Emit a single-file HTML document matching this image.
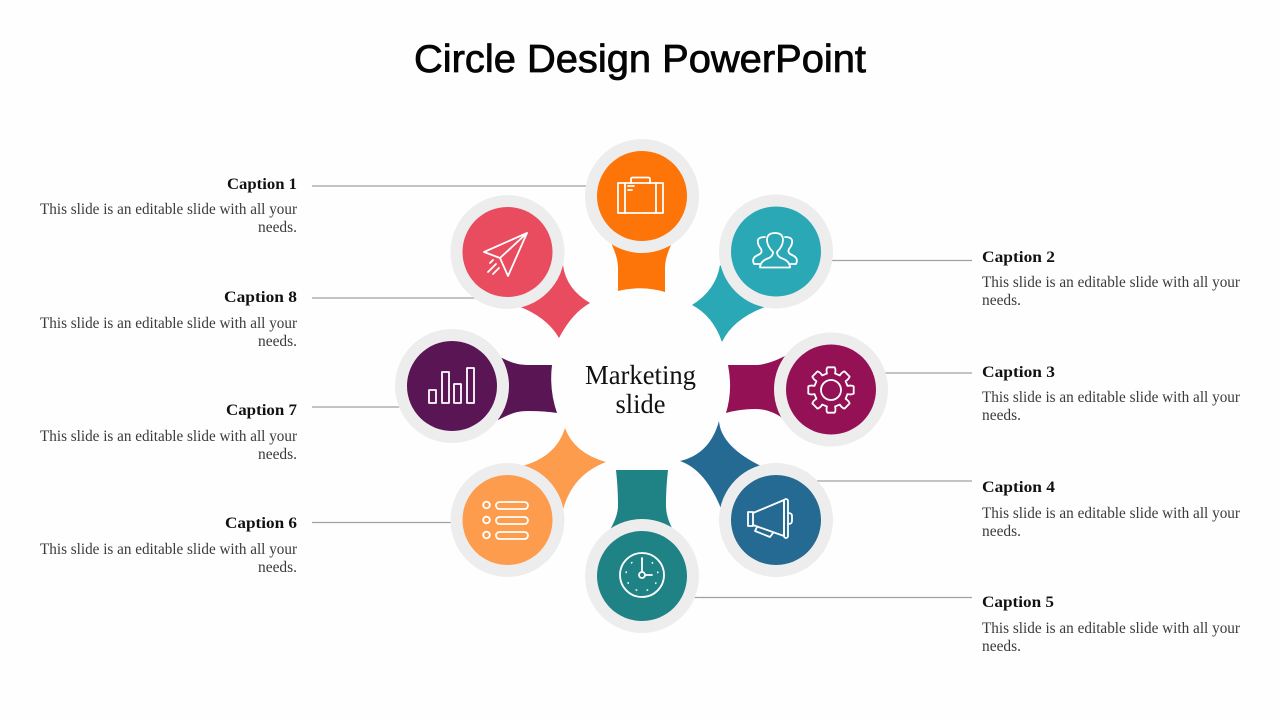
<!DOCTYPE html>
<html lang="en">
<head>
<meta charset="utf-8">
<title>Circle Design PowerPoint</title>
<style>
html,body{margin:0;padding:0;background:#fefefe;width:1280px;height:720px;overflow:hidden}
svg{display:block}
.cap{font:bold 16px "Liberation Serif",serif;fill:#111}
.body{font:15.5px "Liberation Serif",serif;fill:#3a3a3a}
.l{text-anchor:end}
.ln{stroke:#a2a2a2;stroke-width:1.2}
.ic{fill:none;stroke:#fff;stroke-width:1.8;stroke-linejoin:round;stroke-linecap:round}
.ring{fill:#ededed}
</style>
</head>
<body>
<svg width="1280" height="720" viewBox="0 0 1280 720" xmlns="http://www.w3.org/2000/svg">
<rect width="1280" height="720" fill="#fefefe"/>
<text x="414" y="72" textLength="452" lengthAdjust="spacingAndGlyphs" style="font:39px 'Liberation Sans',sans-serif" fill="#050505" stroke="#050505" stroke-width="0.8">Circle Design PowerPoint</text>

<!-- connector lines -->
<line class="ln" x1="312" y1="186" x2="590" y2="186"/>
<line class="ln" x1="312" y1="298" x2="476" y2="298"/>
<line class="ln" x1="312" y1="407" x2="402" y2="407"/>
<line class="ln" x1="312" y1="522.5" x2="452" y2="522.5"/>
<line class="ln" x1="830" y1="260.5" x2="972" y2="260.5"/>
<line class="ln" x1="884" y1="373" x2="972" y2="373"/>
<line class="ln" x1="816" y1="481" x2="972" y2="481"/>
<line class="ln" x1="693" y1="597.5" x2="972" y2="597.5"/>

<!-- petals -->
<path fill="#fd7408" d="M610,240 C614,250 618,258 618,268 L618,291 Q642,285 665,292 L665,268 C665,258 669,250 673,240Z"/>
<path fill="#e84c5e" d="M563,265 Q566,289 590,303 Q572,313 559,338 Q547,317 518,306Z"/>
<path fill="#2ba8b5" d="M720,265 Q716,290 692,305 Q713,316 722,342 Q733,319 765,307Z"/>
<path fill="#951155" d="M728,365 L755,365 C765,365 775,361 785,356 L785,420 C775,412 765,409 755,409 Q740,409 726,413 Q733,390 728,365Z"/>
<path fill="#5a1555" d="M498,356 C510,362 516,365 528,365 L552,365 Q549,390 557,413 Q545,411 528,411 C516,411 510,414 498,420Z"/>
<path fill="#fd9c4c" d="M565,428 Q574,453 606,462 Q572,475 563,510 L522,466 Q556,457 565,428Z"/>
<path fill="#1f8284" d="M616,470 L668,470 C667,480 666,490 666,505 C666,515 669,522 673,530 L610,530 C614,522 618,515 618,505 C618,490 617,480 616,470Z"/>
<path fill="#256a93" d="M719,421 Q721,447 763,467 L722,511 Q706,470 680,461 Q710,454 719,421Z"/>

<!-- circles -->
<circle class="ring" cx="642" cy="196" r="57"/><circle cx="642" cy="196" r="45" fill="#fd7408"/>
<circle class="ring" cx="507.500" cy="252" r="57"/><circle cx="507.500" cy="252" r="45" fill="#e84c5e"/>
<circle class="ring" cx="776" cy="251.500" r="57"/><circle cx="776" cy="251.500" r="45" fill="#2ba8b5"/>
<circle class="ring" cx="831" cy="389.500" r="57"/><circle cx="831" cy="389.500" r="45" fill="#951155"/>
<circle class="ring" cx="452" cy="386" r="57"/><circle cx="452" cy="386" r="45" fill="#5a1555"/>
<circle class="ring" cx="507.500" cy="520" r="57"/><circle cx="507.500" cy="520" r="45" fill="#fd9c4c"/>
<circle class="ring" cx="642" cy="576" r="57"/><circle cx="642" cy="576" r="45" fill="#1f8284"/>
<circle class="ring" cx="776" cy="520" r="57"/><circle cx="776" cy="520" r="45" fill="#256a93"/>

<!-- briefcase -->
<g class="ic">
<rect x="618" y="183" width="45" height="30"/>
<path d="M625,183V213M656,183V213M631,183V179Q631,177.500 633,177.500H648Q650,177.500 650,179V183"/>
<path d="M628,186H634M628,190H632M625,208v1M656,208v1"/>
</g>
<!-- plane -->
<g class="ic">
<path d="M527,233 L484,252 L500,258 L508,276Z M527,233 L500,258"/>
<path d="M488,272 L496,264 M493,274 L499,268 M490,263 L493,260"/>
</g>
<!-- people -->
<g class="ic">
<path d="M760,267.500 H790 Q790,261 781,258 Q777,256 777,252 Q783,246 783,240 Q783,233 775,233 Q767,233 767,240 Q767,246 773,252 Q773,256 769,258 Q760,261 760,267.500Z"/>
<path d="M761,264 H754 Q751,258 758,255 Q763,253 761,249 Q757,244 758,240 Q759,237 765,237"/>
<path d="M789,264 H796 Q799,258 792,255 Q787,253 789,249 Q793,244 792,240 Q791,237 785,237"/>
</g>
<!-- gear -->
<g class="ic" transform="translate(831,390)">
<path d="M16.500,-4.100Q21,-5 22.700,-3.600L22.700,3.600Q21,5 16.500,4.100L14.600,8.800Q18,11 18.600,13.500L13.500,18.600Q11,18 8.800,14.600L4.100,16.500Q5,21 3.600,22.700L-3.600,22.700Q-5,21 -4.100,16.500L-8.800,14.600Q-11,18 -13.500,18.600L-18.600,13.500Q-18,11 -14.600,8.800L-16.500,4.100Q-21,5 -22.700,3.600L-22.700,-3.600Q-21,-5 -16.500,-4.100L-14.600,-8.800Q-18,-11 -18.600,-13.500L-13.500,-18.600Q-11,-18 -8.800,-14.600L-4.100,-16.500Q-5,-21 -3.600,-22.700L3.600,-22.700Q5,-21 4.100,-16.500L8.800,-14.600Q11,-18 13.500,-18.600L18.600,-13.500Q18,-11 14.600,-8.800Z"/>
<circle r="10"/>
</g>
<!-- bars -->
<g class="ic">
<rect x="429" y="390" width="7" height="13"/>
<rect x="442" y="372" width="7" height="31"/>
<rect x="454" y="384" width="7" height="19"/>
<rect x="467" y="368" width="7" height="35"/>
</g>
<!-- list -->
<g class="ic">
<circle cx="486.500" cy="505" r="3.300"/><circle cx="486.500" cy="520" r="3.300"/><circle cx="486.500" cy="535" r="3.300"/>
<rect x="496" y="502" width="32" height="7" rx="3.500"/>
<rect x="496" y="517" width="32" height="7" rx="3.500"/>
<rect x="496" y="532" width="32" height="7" rx="3.500"/>
</g>
<!-- clock -->
<g class="ic">
<circle cx="642" cy="575" r="22"/>
<circle cx="642" cy="575" r="3"/>
<path d="M642,572V558M645,575H652"/>
<path stroke-dasharray="0.5 10.600" d="M642,559 a16,16 0 1 1 -0.010,0" stroke-width="1.500"/>
</g>
<!-- megaphone -->
<g class="ic">
<rect x="748" y="512" width="5" height="14"/>
<path d="M753,513 L784,500 V536 L753,525"/>
<rect x="784" y="499" width="4" height="39" rx="2"/>
<path d="M788,513 Q792,513 792,516 V521 Q792,524 788,524"/>
<path d="M757,527 L755,531 L770,537 L773,533"/>
</g>

<!-- center -->
<g style="font:27px 'Liberation Serif',serif" fill="#111" text-anchor="middle">
<text x="640.500" y="384" textLength="111" lengthAdjust="spacingAndGlyphs">Marketing</text>
<text x="640.500" y="413" textLength="50" lengthAdjust="spacingAndGlyphs">slide</text>
</g>

<!-- left captions -->
<text class="cap l" x="297" y="189" textLength="70" lengthAdjust="spacingAndGlyphs">Caption 1</text>
<text class="body l" x="297" y="214" textLength="257" lengthAdjust="spacingAndGlyphs">This slide is an editable slide with all your</text>
<text class="body l" x="297" y="232" textLength="39" lengthAdjust="spacingAndGlyphs">needs.</text>

<text class="cap l" x="297" y="302" textLength="73" lengthAdjust="spacingAndGlyphs">Caption 8</text>
<text class="body l" x="297" y="328" textLength="257" lengthAdjust="spacingAndGlyphs">This slide is an editable slide with all your</text>
<text class="body l" x="297" y="346" textLength="39" lengthAdjust="spacingAndGlyphs">needs.</text>

<text class="cap l" x="297" y="415" textLength="71" lengthAdjust="spacingAndGlyphs">Caption 7</text>
<text class="body l" x="297" y="441" textLength="257" lengthAdjust="spacingAndGlyphs">This slide is an editable slide with all your</text>
<text class="body l" x="297" y="459" textLength="39" lengthAdjust="spacingAndGlyphs">needs.</text>

<text class="cap l" x="297" y="528" textLength="72" lengthAdjust="spacingAndGlyphs">Caption 6</text>
<text class="body l" x="297" y="554" textLength="257" lengthAdjust="spacingAndGlyphs">This slide is an editable slide with all your</text>
<text class="body l" x="297" y="572" textLength="39" lengthAdjust="spacingAndGlyphs">needs.</text>

<!-- right captions -->
<text class="cap" x="982" y="262" textLength="73" lengthAdjust="spacingAndGlyphs">Caption 2</text>
<text class="body" x="982" y="287" textLength="258" lengthAdjust="spacingAndGlyphs">This slide is an editable slide with all your</text>
<text class="body" x="982" y="305" textLength="39" lengthAdjust="spacingAndGlyphs">needs.</text>

<text class="cap" x="982" y="377" textLength="73" lengthAdjust="spacingAndGlyphs">Caption 3</text>
<text class="body" x="982" y="402" textLength="258" lengthAdjust="spacingAndGlyphs">This slide is an editable slide with all your</text>
<text class="body" x="982" y="420" textLength="39" lengthAdjust="spacingAndGlyphs">needs.</text>

<text class="cap" x="982" y="492" textLength="73" lengthAdjust="spacingAndGlyphs">Caption 4</text>
<text class="body" x="982" y="518" textLength="258" lengthAdjust="spacingAndGlyphs">This slide is an editable slide with all your</text>
<text class="body" x="982" y="536" textLength="39" lengthAdjust="spacingAndGlyphs">needs.</text>

<text class="cap" x="982" y="607" textLength="72" lengthAdjust="spacingAndGlyphs">Caption 5</text>
<text class="body" x="982" y="633" textLength="258" lengthAdjust="spacingAndGlyphs">This slide is an editable slide with all your</text>
<text class="body" x="982" y="651" textLength="39" lengthAdjust="spacingAndGlyphs">needs.</text>
</svg>
</body>
</html>
